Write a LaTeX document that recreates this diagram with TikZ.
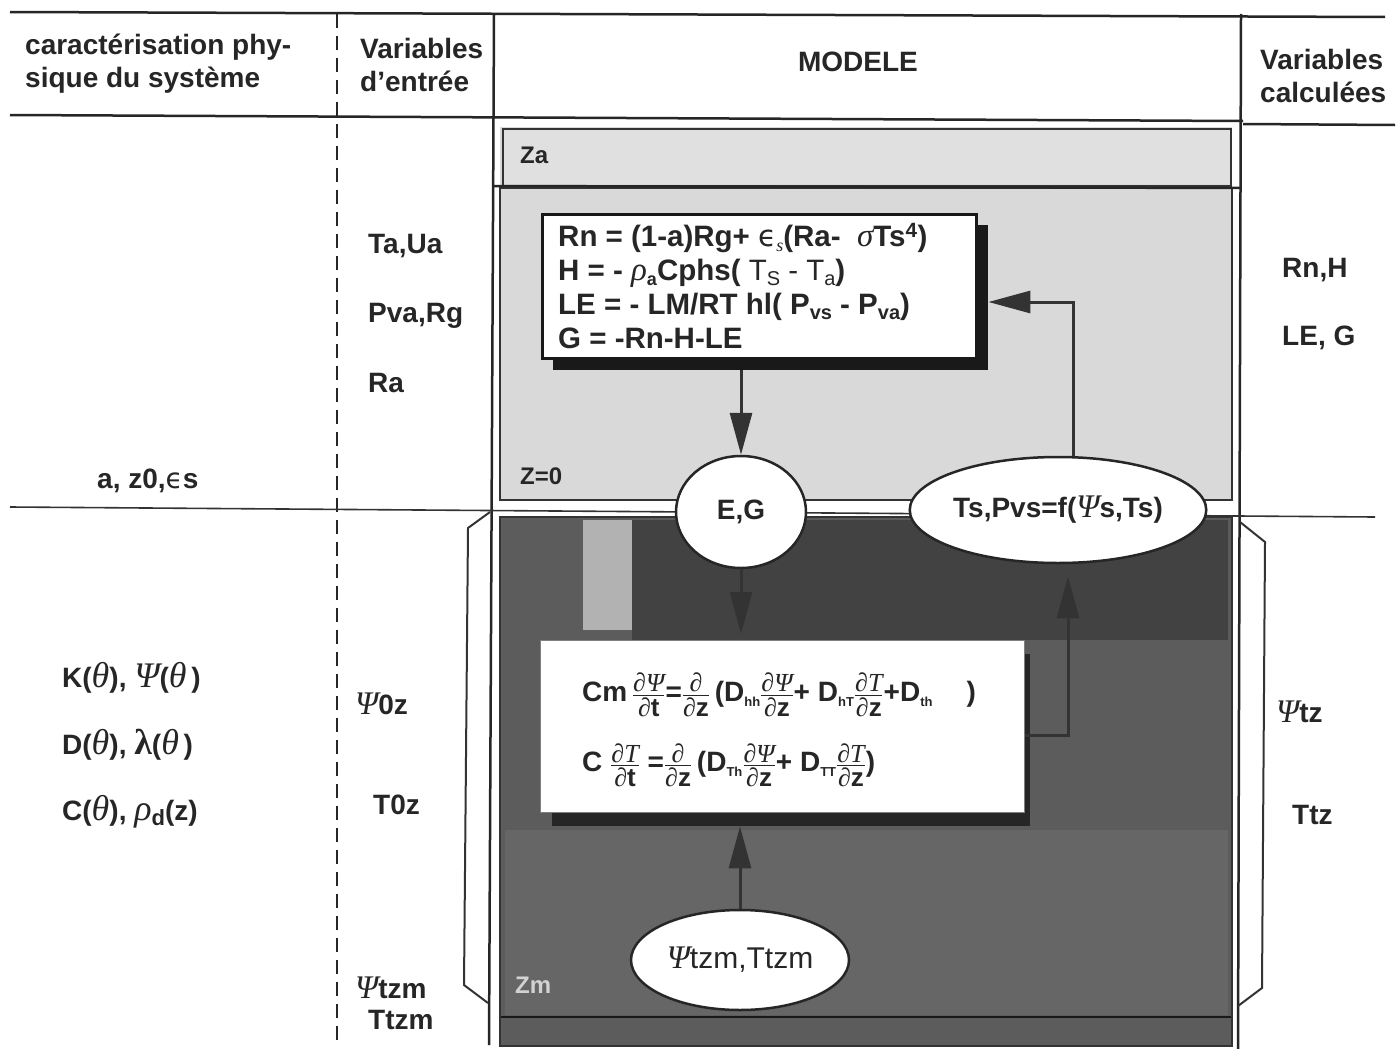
\documentclass[tikz,border=0pt]{standalone}
\usepackage{amsmath}
\usepackage{fontspec}
\setmainfont{Liberation Sans}
\newfontfamily\gk{Liberation Serif}
\newfontfamily\gkd{DejaVu Sans}
\usetikzlibrary{arrows.meta,shapes.geometric}
\newcommand\gi[1]{{\gk\itshape\mdseries #1}}
\newcommand\gb[1]{{\gk\itshape\mdseries\fontsize{33}{33}\selectfont #1}}
\newcommand\gB[1]{{\gk\itshape\mdseries\fontsize{36}{36}\selectfont #1}}
\newcommand\eps{{\gkd\mdseries ϵ}}
\newcommand\pd{{\gk\bfseries ∂}}
\newcommand\sbs[2][14]{\raisebox{-0.35ex}{\fontsize{#1}{#1}\selectfont #2}}
\newcommand\fs{\fontsize{26}{27}\selectfont}
\newcommand\fr[2]{$\genfrac{}{}{1.4pt}{}{\hbox{\fs #1}}{\hbox{\fs #2}}$}
\begin{document}
\begin{tikzpicture}[x=1pt,y=-1pt,
  lbl/.style={font=\fontsize{28}{33}\selectfont\bfseries, inner sep=0pt, text=black!85},
  hdr/.style={lbl, align=left, anchor=west},
  rule/.style={line width=2.5pt, draw=black!85},
  thinrule/.style={line width=1.6pt, draw=black!80},
  ell/.style={ellipse, draw=black!85, line width=2.5pt, fill=white, inner sep=0pt},
  arr/.style={line width=3pt, draw=black!80, -{Triangle[width=22pt,length=42pt]}},
  zlab/.style={font=\fontsize{24}{24}\selectfont\bfseries, inner sep=0pt, text=black!85}
]
\useasboundingbox (0,0) rectangle (1397,1049);
\fill[white] (0,0) rectangle (1397,1049);

% light region (upper model part)
\fill[gray!30] (500,127) rectangle (1232,500);
\fill[gray!24] (503,130) rectangle (1230,184);
\draw[thinrule] (503,129) rectangle (1231,186);
\draw[thinrule] (500,188) rectangle (1232,500);
\draw[rule] (494,186) -- (1240,188);

% dark region (lower model part)
\fill[black!64] (500,517) rectangle (1232,1046);
\fill[black!74] (632,520) rectangle (1228,640);
\fill[gray!60] (583,520) rectangle (632,630);
\fill[black!60] (505,830) rectangle (1228,1015);
\draw[thinrule, draw=black!90] (500,1017) -- (1232,1017);
\draw[thinrule] (500,517) rectangle (1232,1046);

% table rules
\draw[rule] (10,12) -- (1385,17);
\draw[rule] (10,115) -- (1243,121);
\draw[rule] (1243,124) -- (1395,125);
\draw[rule, dash pattern=on 14pt off 8pt] (337,14) -- (337,1042);
\draw[rule] (494,14) -- (489,1045);
\draw[rule] (1241,14) -- (1238,1049);
\draw[thinrule] (10,507) -- (1375,517);

% brackets
\draw[thinrule, line width=2pt] (490,512) -- (468,528) -- (464,985) -- (488,1003);
\draw[thinrule, line width=2pt] (1240,522) -- (1265,542) -- (1262,988) -- (1238,1006);

% equation box 1
\node[fill=black!90, minimum width=435pt, minimum height=145pt, anchor=north west, inner sep=0pt] (sh1) at (553,225) {};
\node[draw=black!90, line width=2.5pt, fill=white, minimum width=434pt, minimum height=144pt, anchor=north west, inner sep=0pt] (eq1) at (541,213) {};

% equation box 2
\node[fill=black!85, minimum width=478pt, minimum height=172pt, anchor=north west, inner sep=0pt] (sh2) at (552,654) {};
\node[fill=white, draw=black!50, line width=1pt, minimum width=484pt, minimum height=172pt, anchor=north west, inner sep=0pt] (eq2) at (540,640) {};

% ellipses
\node[ell, lbl, minimum width=130pt, minimum height=112pt] (eg) at (741,512) {E,G};
\node[ell, lbl, minimum width=290pt, minimum height=106pt] (ts) at (1058,510) {Ts,Pvs=f(\gb{Ψ}s,Ts)};
\node[ell, minimum width=218pt, minimum height=100pt, font=\fontsize{30}{33}\selectfont, text=black!85] (bot) at (740,960) {\gb{Ψ}tzm,Ttzm};

% arrows
\draw[arr] (sh1.south -| eg.north) -- (eg.north);
\draw[arr, shorten >=6pt] (eg.south) -- (eq2.north -| eg.south);
\draw[arr] (bot.north) -- (sh2.south -| bot.north);
\coordinate (c1) at (1073,302);
\draw[arr] (ts.north -| c1) -- (c1) -- (sh1.east |- c1);
\coordinate (c2) at (1068,735);
\draw[arr, shorten >=12pt] (eq2.east |- c2) -- (c2) -- (c2 |- ts.south);

% headers
\node[hdr] (h1) at (25,64) {caractérisation phy-\\sique du système};
\node[hdr] (h2) at (360,65) {Variables\\d’entrée};
\node[lbl] (h3) at (858,62) {MODELE};
\node[hdr] (h4) at (1260,76) {Variables\\calculées};

% zone labels
\node[zlab, anchor=west] (za) at (520,155) {Za};
\node[zlab, anchor=west] (z0) at (520,476) {Z=0};
\node[zlab, anchor=west, text=gray!35] (zm) at (515,985) {Zm};

% equations 1
\node[lbl, align=left, anchor=west, font=\fontsize{29.5}{34}\selectfont\bfseries] (eq1t) at (558,286)
 {Rn = (1-a)Rg+ \eps\sbs[18]{\gi{s}}(Ra- \ \gb{σ}Ts\textsuperscript{4})\\
  H = - \gb{ρ}\sbs[18]{a}Cphs( {\mdseries T\sbs[20]{S} - T\sbs[20]{a}})\\
  LE = - LM/RT hl( P\sbs[20]{vs} - P\sbs[20]{va})\\
  G = -Rn-H-LE};

% equations 2
\node[lbl, align=left, anchor=west, font=\fontsize{28}{70}\selectfont\bfseries] (eq2t) at (582,730)
 {Cm\,\fr{\pd\gi{Ψ}}{\pd t}=\fr{\pd}{\pd z}\,(D\sbs[13]{hh}\fr{\pd\gi{Ψ}}{\pd z}+ D\sbs[13]{hT}\fr{\pd\gi{T}}{\pd z}+D\sbs[13]{th}\hspace{34pt})\\
  C \fr{\pd\gi{T}}{\pd t} =\fr{\pd}{\pd z}\,(D\sbs[13]{Th}\fr{\pd\gi{Ψ}}{\pd z}+ D\sbs[13]{TT}\fr{\pd\gi{T}}{\pd z})};

% left column
\node[lbl, anchor=west] (a1) at (97,481) {a, z0,\eps s};
\node[lbl, anchor=west] (a2) at (62,678) {K(\gB{θ}), \gB{Ψ}(\gB{θ}\,)};
\node[lbl, anchor=west] (a3) at (62,745) {D(\gB{θ}), {\gk\bfseries\fontsize{36}{36}\selectfont λ}(\gB{θ}\,)};
\node[lbl, anchor=west] (a4) at (62,812) {C(\gB{θ}), \gB{ρ}\sbs[22]{d}(z)};

% input column
\node[lbl, anchor=west] (i1) at (368,246) {Ta,Ua};
\node[lbl, anchor=west] (i2) at (368,316) {Pva,Rg};
\node[lbl, anchor=west] (i3) at (368,383) {Ra};
\node[lbl, anchor=west] (i4) at (355,704) {\gb{Ψ}0z};
\node[lbl, anchor=west] (i5) at (373,805) {T0z};
\node[lbl, anchor=west] (i6) at (355,988) {\gb{Ψ}tzm};
\node[lbl, anchor=west] (i7) at (368,1020) {Ttzm};

% output column
\node[lbl, anchor=west] (o1) at (1282,270) {Rn,H};
\node[lbl, anchor=west] (o2) at (1282,338) {LE, G};
\node[lbl, anchor=west] (o3) at (1276,712) {\gb{Ψ}tz};
\node[lbl, anchor=west] (o4) at (1292,815) {Ttz};
\end{tikzpicture}
\end{document}
